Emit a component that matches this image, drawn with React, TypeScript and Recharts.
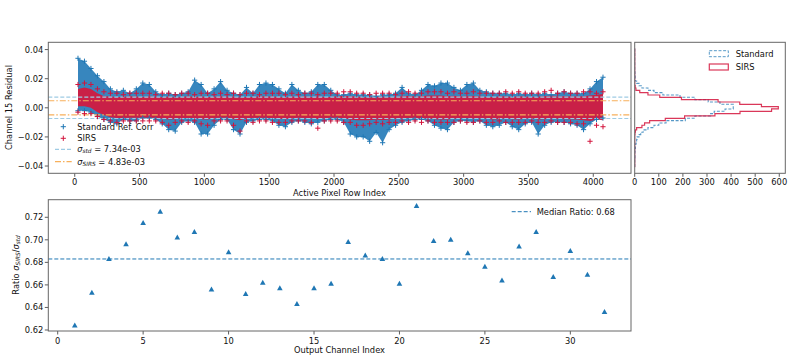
import React from 'react'
import { ComposedChart, Area, Scatter, Line, XAxis, YAxis, ReferenceLine } from 'recharts'

const FONT = '"DejaVu Sans", sans-serif'
const FS = 8.3
const BLUE = '#1f77b4'
const BLUE_FILL = '#2c80bb'
const RED = '#d3143c'
const RED_FILL = '#d11a40'
const STD_LINE = '#9fcbe4'
const SIRS_LINE = '#f7b05b'

// top panel: residual envelopes per 50-row bin
const blueHi = [
  0.034, 0.032, 0.027, 0.022, 0.018, 0.013, 0.011, 0.012, 0.010, 0.013,
  0.017, 0.016, 0.011, 0.009, 0.010, 0.009, 0.010, 0.011, 0.019, 0.016,
  0.010, 0.013, 0.018, 0.012, 0.010, 0.009, 0.014, 0.010, 0.016, 0.017,
  0.016, 0.013, 0.010, 0.016, 0.012, 0.010, 0.011, 0.016, 0.016, 0.012,
  0.009, 0.009, 0.010, 0.009, 0.009, 0.009, 0.008, 0.009, 0.009, 0.010,
  0.014, 0.010, 0.009, 0.012, 0.016, 0.015, 0.017, 0.017, 0.014, 0.012,
  0.016, 0.017, 0.012, 0.011, 0.010, 0.010, 0.010, 0.009, 0.010, 0.009,
  0.010, 0.009, 0.010, 0.009, 0.010, 0.011, 0.010, 0.010, 0.010, 0.013,
  0.018, 0.021,
]
const blueLo = [
  -0.002, -0.002, -0.003, -0.006, -0.008, -0.010, -0.011, -0.008, -0.009, -0.009,
  -0.007, -0.007, -0.008, -0.011, -0.015, -0.016, -0.010, -0.009, -0.010, -0.018,
  -0.018, -0.012, -0.008, -0.008, -0.015, -0.018, -0.010, -0.009, -0.008, -0.008,
  -0.009, -0.012, -0.013, -0.010, -0.009, -0.010, -0.011, -0.010, -0.009, -0.008,
  -0.008, -0.010, -0.018, -0.020, -0.020, -0.023, -0.017, -0.024, -0.015, -0.012,
  -0.010, -0.009, -0.008, -0.008, -0.009, -0.012, -0.014, -0.015, -0.010, -0.009,
  -0.009, -0.010, -0.009, -0.012, -0.013, -0.012, -0.010, -0.013, -0.015, -0.011,
  -0.010, -0.018, -0.012, -0.010, -0.010, -0.010, -0.011, -0.012, -0.015, -0.011,
  -0.008, -0.007,
]
const redHi = [
  0.016, 0.017, 0.016, 0.013, 0.011, 0.010, 0.010, 0.009, 0.010, 0.010,
  0.010, 0.010, 0.009, 0.010, 0.010, 0.009, 0.010, 0.010, 0.009, 0.010,
  0.010, 0.009, 0.010, 0.009, 0.010, 0.009, 0.010, 0.010, 0.009, 0.010,
  0.010, 0.010, 0.009, 0.010, 0.009, 0.010, 0.010, 0.009, 0.010, 0.010,
  0.010, 0.011, 0.011, 0.010, 0.010, 0.009, 0.010, 0.010, 0.010, 0.009,
  0.010, 0.011, 0.010, 0.010, 0.011, 0.011, 0.011, 0.010, 0.011, 0.010,
  0.010, 0.011, 0.010, 0.010, 0.010, 0.010, 0.011, 0.010, 0.011, 0.010,
  0.010, 0.010, 0.011, 0.012, 0.010, 0.011, 0.010, 0.010, 0.011, 0.011,
  0.010, 0.011,
]
const redLo = [
  -0.003, -0.004, -0.004, -0.006, -0.008, -0.009, -0.010, -0.009, -0.009, -0.009,
  -0.009, -0.009, -0.009, -0.010, -0.012, -0.010, -0.009, -0.010, -0.009, -0.011,
  -0.012, -0.009, -0.009, -0.009, -0.012, -0.016, -0.009, -0.010, -0.009, -0.009,
  -0.010, -0.010, -0.010, -0.009, -0.009, -0.009, -0.010, -0.014, -0.009, -0.009,
  -0.009, -0.010, -0.010, -0.012, -0.012, -0.011, -0.010, -0.011, -0.010, -0.010,
  -0.009, -0.010, -0.009, -0.010, -0.009, -0.010, -0.010, -0.010, -0.010, -0.009,
  -0.010, -0.010, -0.009, -0.010, -0.010, -0.009, -0.010, -0.010, -0.010, -0.010,
  -0.009, -0.010, -0.010, -0.009, -0.010, -0.010, -0.010, -0.011, -0.011, -0.023,
  -0.012, -0.013,
]
// dense core of the SIRS points
const redCoreHi = [
  0.013, 0.014, 0.013, 0.010, 0.008, 0.0078, 0.0075, 0.0075, 0.008, 0.0078,
  0.0075, 0.008, 0.0075, 0.0075, 0.0078, 0.007, 0.0075, 0.008, 0.0075, 0.0078,
  0.0075, 0.0075, 0.008, 0.0075, 0.0078, 0.007, 0.0075, 0.0075, 0.008, 0.0078,
  0.0078, 0.0075, 0.007, 0.0078, 0.0075, 0.008, 0.0075, 0.0078, 0.0075, 0.0075,
  0.008, 0.0082, 0.008, 0.0078, 0.0075, 0.007, 0.0075, 0.0078, 0.0075, 0.0075,
  0.008, 0.0082, 0.0078, 0.008, 0.0085, 0.0085, 0.0085, 0.008, 0.0082, 0.0078,
  0.008, 0.0082, 0.0078, 0.0075, 0.0075, 0.0078, 0.008, 0.0075, 0.008, 0.0078,
  0.0075, 0.0078, 0.008, 0.0085, 0.0078, 0.008, 0.0078, 0.0078, 0.008, 0.0085,
  0.009, 0.0095,
]
const redCoreLo = [
  0.001, 0.001, 0.000, -0.003, -0.005, -0.0065, -0.007, -0.007, -0.0068, -0.0068,
  -0.0068, -0.007, -0.0068, -0.0075, -0.008, -0.0078, -0.007, -0.007, -0.007, -0.0078,
  -0.008, -0.007, -0.0068, -0.0068, -0.0078, -0.0085, -0.0072, -0.007, -0.0068, -0.007,
  -0.007, -0.0075, -0.0078, -0.0072, -0.0068, -0.007, -0.0072, -0.0078, -0.0072, -0.0068,
  -0.0068, -0.0072, -0.008, -0.0085, -0.0085, -0.0085, -0.008, -0.0085, -0.008, -0.0075,
  -0.0072, -0.007, -0.0068, -0.0075, -0.0072, -0.0078, -0.008, -0.008, -0.0075, -0.0072,
  -0.0072, -0.0075, -0.0072, -0.0075, -0.008, -0.0078, -0.0072, -0.0078, -0.008, -0.0075,
  -0.0072, -0.008, -0.0078, -0.0072, -0.0075, -0.0078, -0.0078, -0.008, -0.0085, -0.009,
  -0.008, -0.0085,
]
const sigmaStd = 0.00734
const sigmaSirs = 0.00483
const rowTicks = [0, 500, 1000, 1500, 2000, 2500, 3000, 3500, 4000]
const residTicks = [-0.04, -0.02, 0, 0.02, 0.04]

// histogram: counts per 0.0016-wide bin, bins centred on -0.04 ... 0.04
const histBinWidth = 0.0016
const histFirstEdge = -0.0408
const stdCounts = [
  0, 0, 0, 0, 0, 0, 0, 0, 0, 0,
  1, 2, 2, 3, 8, 18, 30, 55, 80, 117,
  188, 250, 305, 354, 409, 409, 375, 330, 315, 250,
  210, 130, 100, 80, 55, 35, 25, 18, 10, 8,
  6, 4, 3, 2, 1, 1, 1, 0, 0, 0, 0,
]
const sirsCounts = [
  0, 0, 0, 0, 0, 0, 0, 0, 0, 0,
  0, 0, 0, 0, 0, 0, 2, 5, 21, 55,
  104, 194, 346, 436, 526, 596, 568, 437, 333, 207,
  127, 62, 41, 30, 8, 3, 1, 0, 0, 0,
  0, 0, 0, 0, 0, 0, 0, 0, 0, 0, 0,
]
const countTicks = [0, 100, 200, 300, 400, 500, 600]

// bottom panel
const channels = [
  1, 2, 3, 4, 5, 6, 7, 8, 9, 10, 11, 12, 13, 14, 15, 16,
  17, 18, 19, 20, 21, 22, 23, 24, 25, 26, 27, 28, 29, 30, 31, 32,
]
const ratios = [
  0.624, 0.653, 0.683, 0.696, 0.715, 0.725, 0.702, 0.707, 0.656, 0.689, 0.652, 0.662, 0.657, 0.643, 0.657, 0.661,
  0.698, 0.686, 0.683, 0.661, 0.730, 0.699, 0.700, 0.688, 0.676, 0.664, 0.694, 0.707, 0.667, 0.690, 0.669, 0.636,
]
const medianRatio = 0.683
const channelTicks = [0, 5, 10, 15, 20, 25, 30]
const ratioTicks = [0.62, 0.64, 0.66, 0.68, 0.7, 0.72]

const rowBins = blueHi.map((_, i) => Math.min(25 + 50 * i, 4080))
const bandData = rowBins.map((row, i) => ({
  row,
  blue: [blueLo[i], blueHi[i]],
  red: [redCoreLo[i], redCoreHi[i]],
}))
const pts = (vals: number[]) => rowBins.map((row, i) => ({ row, v: vals[i] }))

const histData = [
  ...stdCounts.map((c, i) => ({ edge: histFirstEdge + i * histBinWidth, std: c, sirs: sirsCounts[i] })),
  { edge: histFirstEdge + stdCounts.length * histBinWidth, std: 0, sirs: 0 },
]
const ratioPts = channels.map((ch, i) => ({ ch, r: ratios[i] }))

const tickStyle = { fontSize: FS, fill: '#111', fontFamily: FONT }
const tickLineStyle = { stroke: '#333', strokeWidth: 0.8 }
const fmtResid = (v: number) => (v < 0 ? '\u2212' : '') + Math.abs(v).toFixed(2)

const cross = (color: string) => (p: any) => (
  <path d={`M${p.cx - 2.6},${p.cy}h5.2M${p.cx},${p.cy - 2.6}v5.2`} stroke={color} strokeWidth={1} fill="none" />
)
const triangle = (p: any) => (
  <path d={`M${p.cx},${p.cy - 3}L${p.cx + 2.8},${p.cy + 2}L${p.cx - 2.8},${p.cy + 2}Z`} fill={BLUE} />
)

export default function App() {
  return (
    <div style={{ position: 'absolute', left: 0, top: 0, width: 793, height: 361, background: '#fff', fontFamily: FONT }}>
      <div style={{ position: 'absolute', left: 0, top: 0 }}>
        <ComposedChart width={640} height={200} data={bandData} margin={{ top: 42.3, right: 9, bottom: 6.7, left: 8.3 }}>
          <XAxis dataKey="row" type="number" domain={[-204, 4291]} ticks={rowTicks} interval={0} allowDataOverflow
            axisLine={false} tickSize={3.5} tickMargin={1.9} tick={tickStyle} tickLine={tickLineStyle} height={20} />
          <YAxis dataKey="v" type="number" domain={[-0.045, 0.045]} ticks={residTicks} interval={0} allowDataOverflow
            axisLine={false} tickSize={3.5} tickMargin={1.5} tick={tickStyle} tickLine={tickLineStyle} width={40}
            tickFormatter={fmtResid} />
          <Area dataKey="blue" type="linear" stroke="none" fill={BLUE_FILL} fillOpacity={0.95} isAnimationActive={false} />
          <Scatter dataKey="v" data={pts(blueHi)} shape={cross(BLUE)} isAnimationActive={false} />
          <Scatter dataKey="v" data={pts(blueLo)} shape={cross(BLUE)} isAnimationActive={false} />
          <Area dataKey="red" type="linear" stroke="none" fill={RED_FILL} fillOpacity={0.95} isAnimationActive={false} />
          <Scatter dataKey="v" data={pts(redHi)} shape={cross(RED)} isAnimationActive={false} />
          <Scatter dataKey="v" data={pts(redLo)} shape={cross(RED)} isAnimationActive={false} />
          <ReferenceLine y={sigmaStd} stroke={STD_LINE} strokeWidth={1.2} strokeDasharray="4 2" />
          <ReferenceLine y={-sigmaStd} stroke={STD_LINE} strokeWidth={1.2} strokeDasharray="4 2" />
          <ReferenceLine y={sigmaSirs} stroke={SIRS_LINE} strokeWidth={1.2} strokeDasharray="6 2 1.5 2" />
          <ReferenceLine y={-sigmaSirs} stroke={SIRS_LINE} strokeWidth={1.2} strokeDasharray="6 2 1.5 2" />
        </ComposedChart>
      </div>

      <div style={{ position: 'absolute', left: 620, top: 0 }}>
        <ComposedChart width={173} height={200} layout="vertical" data={histData}
          margin={{ top: 42.3, right: 7.7, bottom: 6.7, left: 4.7 }}>
          <XAxis type="number" domain={[0, 625]} ticks={countTicks} interval={0} allowDataOverflow
            axisLine={false} tickSize={3.5} tickMargin={1.9} tick={tickStyle} tickLine={tickLineStyle} height={20} />
          <YAxis dataKey="edge" type="number" domain={[-0.045, 0.045]} ticks={residTicks} interval={0} allowDataOverflow
            axisLine={false} tickSize={3.5} tick={false} tickLine={tickLineStyle} width={10} />
          <Line dataKey="std" type="stepBefore" stroke={BLUE} strokeOpacity={0.75} strokeWidth={1.1}
            strokeDasharray="3 1.6" dot={false} isAnimationActive={false} />
          <Line dataKey="sirs" type="stepBefore" stroke={RED} strokeOpacity={0.85} strokeWidth={1.2}
            dot={false} isAnimationActive={false} />
        </ComposedChart>
      </div>

      <div style={{ position: 'absolute', left: 0, top: 190 }}>
        <ComposedChart width={640} height={171} margin={{ top: 9.7, right: 9, bottom: 10, left: 8.3 }}>
          <XAxis dataKey="ch" type="number" domain={[-0.55, 33.55]} ticks={channelTicks} interval={0} allowDataOverflow
            axisLine={false} tickSize={3.5} tickMargin={3.4} tick={tickStyle} tickLine={tickLineStyle} height={20} />
          <YAxis dataKey="r" type="number" domain={[0.6191, 0.7356]} ticks={ratioTicks} interval={0} allowDataOverflow
            axisLine={false} tickSize={3.5} tickMargin={1.5} tick={tickStyle} tickLine={tickLineStyle} width={40}
            tickFormatter={(v: number) => v.toFixed(2)} />
          <ReferenceLine y={medianRatio} stroke={BLUE} strokeWidth={1} strokeDasharray="4 2" />
          <Scatter dataKey="r" data={ratioPts} shape={triangle} isAnimationActive={false} />
        </ComposedChart>
      </div>

      <svg width={793} height={361} style={{ position: 'absolute', left: 0, top: 0, pointerEvents: 'none' }}
        fontFamily={FONT} fontSize={FS} fill="#111">
        <rect x={48.3} y={42.3} width={582.7} height={131} fill="none" stroke="#666" strokeWidth={1} />
        <rect x={634.7} y={42.3} width={150.6} height={131} fill="none" stroke="#666" strokeWidth={1} />
        <rect x={48.3} y={199.7} width={582.7} height={131.3} fill="none" stroke="#666" strokeWidth={1} />

        <text transform="translate(9.2,107.5) rotate(-90)" textAnchor="middle" dominantBaseline="central">Channel 15 Residual</text>
        <text x={339.5} y={193.3} textAnchor="middle" dominantBaseline="central">Active Pixel Row Index</text>
        <text x={339.5} y={350.3} textAnchor="middle" dominantBaseline="central">Output Channel Index</text>
        <text transform="translate(16,265) rotate(-90)" textAnchor="middle" dominantBaseline="central">
          Ratio <tspan fontStyle="italic">σ</tspan><tspan fontStyle="italic" fontSize={FS * 0.7} dy={2}>SIRS</tspan>
          <tspan dy={-2}>/</tspan><tspan fontStyle="italic">σ</tspan><tspan fontStyle="italic" fontSize={FS * 0.7} dy={2}>std</tspan>
        </text>

        {/* top legend */}
        <path d="M60.7,126.7h5.2M63.3,124.1v5.2" stroke={BLUE} strokeWidth={1} />
        <text x={77.3} y={126.7} dominantBaseline="central">Standard Ref. Corr</text>
        <path d="M60.7,138.3h5.2M63.3,135.7v5.2" stroke={RED} strokeWidth={1} />
        <text x={77.3} y={138.3} dominantBaseline="central">SIRS</text>
        <line x1={55} x2={71.7} y1={149.3} y2={149.3} stroke={STD_LINE} strokeWidth={1.2} strokeDasharray="4 2" />
        <text x={77.3} y={149.3} dominantBaseline="central">
          <tspan fontStyle="italic">σ</tspan><tspan fontStyle="italic" fontSize={FS * 0.7} dy={2}>std</tspan>
          <tspan dy={-2}> = 7.34e-03</tspan>
        </text>
        <line x1={55} x2={71.7} y1={161.7} y2={161.7} stroke={SIRS_LINE} strokeWidth={1.2} strokeDasharray="6 2 1.5 2" />
        <text x={77.3} y={161.7} dominantBaseline="central">
          <tspan fontStyle="italic">σ</tspan><tspan fontStyle="italic" fontSize={FS * 0.7} dy={2}>SIRS</tspan>
          <tspan dy={-2}> = 4.83e-03</tspan>
        </text>

        {/* histogram legend */}
        <rect x={709.3} y={50.7} width={19} height={6} fill="none" stroke={BLUE} strokeOpacity={0.75} strokeDasharray="3 1.6" />
        <text x={735.7} y={53.7} dominantBaseline="central">Standard</text>
        <rect x={709.3} y={64} width={19} height={6} fill="none" stroke={RED} strokeOpacity={0.85} strokeWidth={1.2} />
        <text x={735.7} y={67} dominantBaseline="central">SIRS</text>

        {/* bottom legend */}
        <line x1={511.7} x2={531} y1={211.7} y2={211.7} stroke={BLUE} strokeWidth={1} strokeDasharray="4 2" />
        <text x={536.7} y={211.7} dominantBaseline="central">Median Ratio: 0.68</text>
      </svg>
    </div>
  )
}
